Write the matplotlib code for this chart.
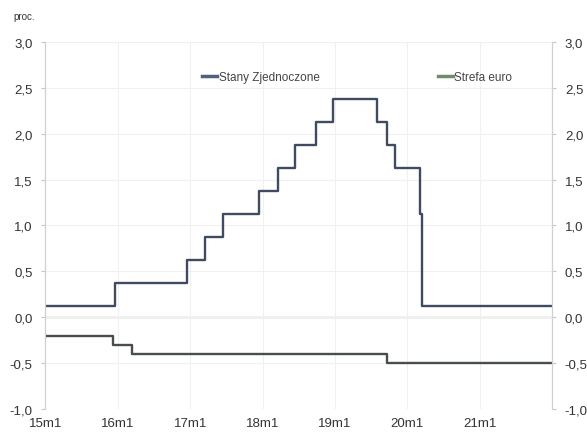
import datetime as dt
import matplotlib
matplotlib.use("Agg")
import matplotlib.pyplot as plt
from matplotlib.lines import Line2D

plt.rcParams['font.family'] = ['Liberation Sans', 'DejaVu Sans']

# Stopy procentowe: daty zmian i poziomy (proc.)
us_dates = ["2015-01-01", "2015-12-17", "2016-12-15", "2017-03-16", "2017-06-15",
            "2017-12-14", "2018-03-22", "2018-06-14", "2018-09-27", "2018-12-20",
            "2019-08-01", "2019-09-19", "2019-10-31", "2020-03-04", "2020-03-16",
            "2021-12-31"]
us_rates = [0.125, 0.375, 0.625, 0.875, 1.125, 1.375, 1.625, 1.875, 2.125, 2.375,
            2.125, 1.875, 1.625, 1.125, 0.125, 0.125]

ez_dates = ["2015-01-01", "2015-12-09", "2016-03-16", "2019-09-18", "2021-12-31"]
ez_rates = [-0.20, -0.30, -0.40, -0.50, -0.50]

years = [2015, 2016, 2017, 2018, 2019, 2020, 2021]
x_labels = ["15m1", "16m1", "17m1", "18m1", "19m1", "20m1", "21m1"]
y_ticks = [-1.0, -0.5, 0.0, 0.5, 1.0, 1.5, 2.0, 2.5, 3.0]


def to_dates(lst):
    return [dt.datetime.strptime(s, "%Y-%m-%d") for s in lst]


fig = plt.figure(figsize=(5.87, 4.35), dpi=100)
ax = fig.add_axes([0.077, 0.0575, 0.864, 0.844])

ax.step(to_dates(us_dates), us_rates, where="post", color="#3f4b62", lw=1.7)
ax.step(to_dates(ez_dates), ez_rates, where="post", color="#474e4b", lw=1.7)

ax.axhline(0, color="#b0b0b0", lw=1, zorder=0)
ax.set_xlim(dt.datetime(2015, 1, 1), dt.datetime(2022, 1, 1))
ax.set_ylim(-1.0, 3.0)

ax.set_xticks([dt.datetime(y, 1, 1) for y in years])
ax.set_xticklabels(x_labels)
ax.set_yticks(y_ticks)
ylabels = [f"{v:.1f}".replace(".", ",") for v in y_ticks]
ax.set_yticklabels(ylabels)
ax.grid(True, color="#f0f0f0", lw=0.8)
ax.set_axisbelow(True)

ax.tick_params(axis="y", length=3, color="#c8c8c8", labelsize=9.5, labelcolor="#333333", pad=6)
ax.tick_params(axis="x", length=0, labelsize=9.5, labelcolor="#333333", pad=6)

ax2 = ax.twinx()
ax2.set_ylim(ax.get_ylim())
ax2.set_yticks(y_ticks)
ax2.set_yticklabels(ylabels)
ax2.tick_params(axis="y", length=3, color="#c8c8c8", labelsize=9.5, labelcolor="#333333", pad=6)

for a in (ax, ax2):
    for side in ("top", "bottom"):
        a.spines[side].set_visible(False)
    a.spines["left"].set_color("#d0d0d0")
    a.spines["right"].set_color("#d0d0d0")

fig.text(0.022, 0.955, "proc.", fontsize=7, color="#333333")

handles = [Line2D([], [], color="#4d6283", lw=2.5),
           Line2D([], [], color="#6e8d6a", lw=2.5)]
ax.legend(handles, ["Stany Zjednoczone", "Strefa euro"], loc="center",
          bbox_to_anchor=(0.615, 0.905), ncol=2, frameon=False,
          fontsize=8.5, handlelength=1.3, handletextpad=0.1, columnspacing=10,
          labelcolor="#444444")

fig.savefig("out.png", dpi=100)
